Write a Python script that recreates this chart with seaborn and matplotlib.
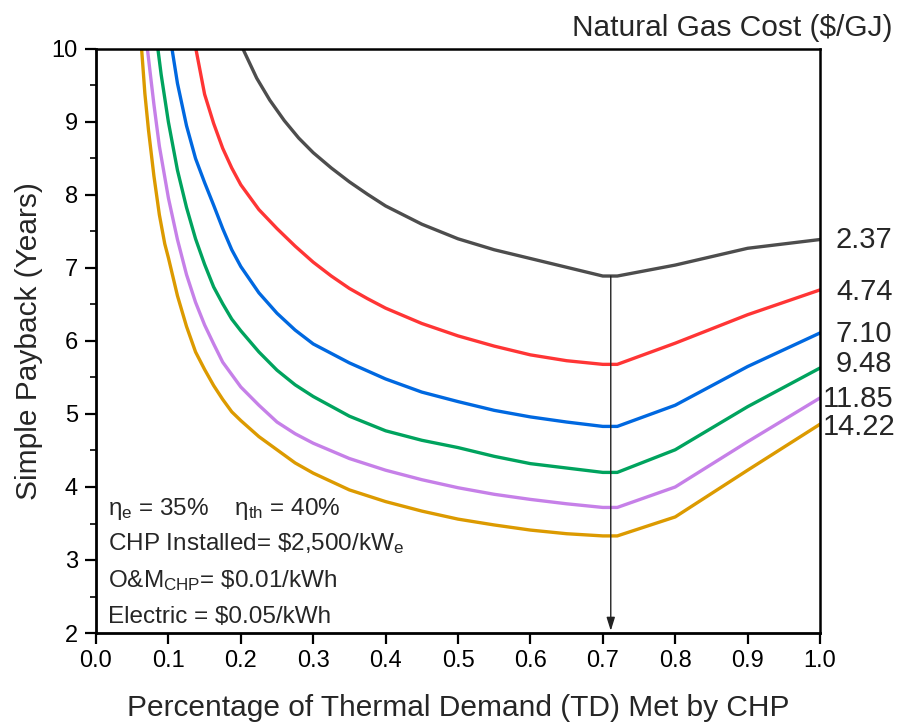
import numpy as np
import pandas as pd
import matplotlib
matplotlib.use("Agg")
import matplotlib.pyplot as plt
import seaborn as sns
from matplotlib.ticker import MultipleLocator, FormatStrFormatter
from matplotlib.patches import ArrowStyle

# ---------------- data ----------------
gas_costs = ["2.37", "4.74", "7.10", "9.48", "11.85", "14.22"]

x_237 = [0.203, 0.222, 0.24, 0.26, 0.28, 0.30, 0.325, 0.35, 0.375, 0.40, 0.45, 0.50, 0.55, 0.60, 0.65, 0.70, 0.72, 0.80, 0.90, 1.00]
y_237 = [10.00, 9.60, 9.30, 9.02, 8.78, 8.58, 8.37, 8.18, 8.01, 7.85, 7.60, 7.40, 7.25, 7.13, 7.01, 6.89, 6.89, 7.04, 7.27, 7.39]

x_474 = [0.138, 0.15, 0.1625, 0.175, 0.1875, 0.20, 0.225, 0.25, 0.275, 0.30, 0.325, 0.35, 0.375, 0.40, 0.45, 0.50, 0.55, 0.60, 0.65, 0.70, 0.72, 0.80, 0.90, 1.00]
y_474 = [10.00, 9.38, 8.98, 8.64, 8.37, 8.14, 7.80, 7.54, 7.30, 7.08, 6.89, 6.72, 6.58, 6.45, 6.24, 6.07, 5.93, 5.81, 5.73, 5.68, 5.68, 5.97, 6.36, 6.70]

x_710 = [0.105, 0.1125, 0.125, 0.1375, 0.15, 0.1625, 0.175, 0.1875, 0.20, 0.225, 0.25, 0.275, 0.30, 0.35, 0.40, 0.45, 0.50, 0.55, 0.60, 0.65, 0.70, 0.72, 0.80, 0.90, 1.00]
y_710 = [10.00, 9.53, 8.95, 8.50, 8.17, 7.86, 7.54, 7.25, 7.02, 6.66, 6.38, 6.15, 5.96, 5.70, 5.48, 5.30, 5.17, 5.05, 4.96, 4.89, 4.83, 4.83, 5.12, 5.65, 6.11]

x_948 = [0.0855, 0.09, 0.10, 0.1125, 0.125, 0.1375, 0.15, 0.1625, 0.175, 0.1875, 0.20, 0.225, 0.25, 0.275, 0.30, 0.35, 0.40, 0.45, 0.50, 0.55, 0.60, 0.65, 0.70, 0.72, 0.80, 0.90, 1.00]
y_948 = [10.00, 9.65, 9.00, 8.34, 7.83, 7.40, 7.05, 6.74, 6.51, 6.30, 6.14, 5.85, 5.60, 5.40, 5.24, 4.97, 4.77, 4.64, 4.54, 4.42, 4.32, 4.26, 4.20, 4.20, 4.51, 5.10, 5.63]

x_1185 = [0.071, 0.075, 0.08, 0.0875, 0.10, 0.1125, 0.125, 0.1375, 0.15, 0.1625, 0.175, 0.1875, 0.20, 0.225, 0.25, 0.275, 0.30, 0.35, 0.40, 0.45, 0.50, 0.55, 0.60, 0.65, 0.70, 0.72, 0.80, 0.90, 1.00]
y_1185 = [10.00, 9.66, 9.24, 8.67, 7.96, 7.39, 6.91, 6.53, 6.22, 5.96, 5.71, 5.54, 5.37, 5.12, 4.89, 4.73, 4.60, 4.39, 4.23, 4.10, 3.99, 3.90, 3.83, 3.77, 3.72, 3.72, 4.00, 4.62, 5.22]

x_1422 = [0.063, 0.0675, 0.0725, 0.08, 0.0875, 0.095, 0.10, 0.1125, 0.125, 0.1375, 0.15, 0.1625, 0.175, 0.1875, 0.20, 0.225, 0.25, 0.275, 0.30, 0.35, 0.40, 0.45, 0.50, 0.55, 0.60, 0.65, 0.70, 0.72, 0.80, 0.90, 1.00]
y_1422 = [10.00, 9.39, 8.89, 8.26, 7.73, 7.33, 7.14, 6.62, 6.20, 5.85, 5.61, 5.39, 5.20, 5.03, 4.91, 4.69, 4.51, 4.33, 4.19, 3.96, 3.80, 3.67, 3.56, 3.48, 3.41, 3.36, 3.33, 3.33, 3.59, 4.23, 4.86]

label_y = [7.28, 6.56, 5.98, 5.57, 5.09, 4.71]

colors = ["#4D4D4D", "#FF3535", "#0068E0", "#00A35E", "#C680E8", "#DC9A00"]

series_x = [x_237, x_474, x_710, x_948, x_1185, x_1422]
series_y = [y_237, y_474, y_710, y_948, y_1185, y_1422]

frames = []
for c, xs, ys in zip(gas_costs, series_x, series_y):
    frames.append(pd.DataFrame({"x": xs, "y": ys, "cost": c}))
df = pd.concat(frames, ignore_index=True)

# ---------------- style ----------------
sns.set_theme(style="ticks")
plt.rcParams["font.family"] = ["Liberation Sans", "DejaVu Sans"]
plt.rcParams["mathtext.fontset"] = "custom"
plt.rcParams["mathtext.rm"] = "Liberation Sans"
plt.rcParams["mathtext.it"] = "Liberation Sans"
plt.rcParams["mathtext.bf"] = "Liberation Sans:bold"

fig = plt.figure(figsize=(8.98, 7.24), dpi=100)
ax = fig.add_axes([96 / 898, 1 - 633 / 724, (820 - 96) / 898, (633 - 49) / 724])

sns.lineplot(data=df, x="x", y="y", hue="cost", hue_order=gas_costs,
             palette=dict(zip(gas_costs, colors)), sort=False, estimator=None,
             linewidth=2.4, legend=False, ax=ax)

ax.set_xlim(0, 1.0)
ax.set_ylim(2, 10)
ax.xaxis.set_major_locator(MultipleLocator(0.1))
ax.xaxis.set_major_formatter(FormatStrFormatter("%.1f"))
ax.yaxis.set_major_locator(MultipleLocator(1))
ax.yaxis.set_minor_locator(MultipleLocator(0.5))

ax.tick_params(axis="both", which="major", direction="out", length=8, width=1.6,
               labelsize=17, colors="black")
ax.tick_params(axis="x", pad=4)
ax.tick_params(axis="y", pad=5)
ax.tick_params(axis="y", which="minor", direction="out", length=4.5, width=1.4)
ax.tick_params(top=False, right=False, which="both")

for side in ["left", "bottom"]:
    ax.spines[side].set_linewidth(2.0)
for side in ["top", "right"]:
    ax.spines[side].set_linewidth(1.8)
for s in ax.spines.values():
    s.set_color("black")

ax.set_xlabel("Percentage of Thermal Demand (TD) Met by CHP", fontsize=21.5, labelpad=16)
ax.set_ylabel("Simple Payback (Years)", fontsize=21.5, labelpad=6)

# arrow at optimum
ax.annotate("", xy=(0.711, 2.03), xytext=(0.711, 6.89),
            arrowprops=dict(arrowstyle=ArrowStyle("-|>", head_length=0.8, head_width=0.25),
                            mutation_scale=10, color="#222222", lw=1.0,
                            shrinkA=0, shrinkB=0))

# curve labels
for lab, ly in zip(gas_costs, label_y):
    lx = 1.004 if len(lab) > 4 else 1.022
    ax.text(lx, ly, lab, fontsize=21, va="baseline", ha="left", clip_on=False)

fig.text(893 / 898, 1 - 36 / 724, "Natural Gas Cost ($/GJ)", fontsize=21.5,
         ha="right", va="baseline")

# parameter block
tx = 0.0166
ax.text(tx, 3.62, r"$\eta_\mathregular{e}$ = 35%    $\eta_\mathregular{th}$ = 40%", fontsize=17.5, va="baseline")
ax.text(tx, 3.137, r"CHP Installed= \$2,500/kW$_\mathregular{e}$", fontsize=17.5, va="baseline")
ax.text(tx, 2.634, r"O&M$_\mathregular{CHP}$= \$0.01/kWh", fontsize=17.5, va="baseline")
ax.text(tx, 2.133, r"Electric = \$0.05/kWh", fontsize=17.5, va="baseline")

fig.savefig("out.png", dpi=100)
